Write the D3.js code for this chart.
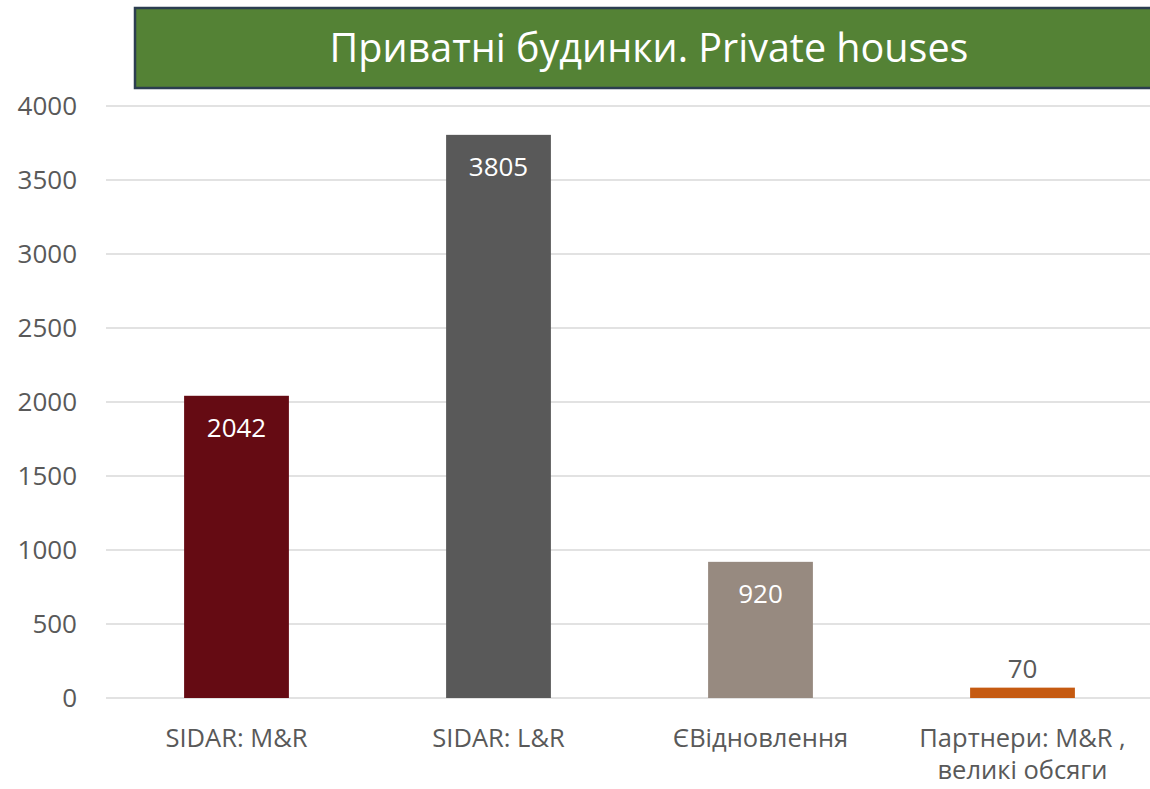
<!DOCTYPE html>
<html>
<head>
<meta charset="utf-8">
<script src="https://cdn.jsdelivr.net/npm/d3@7.9.0/dist/d3.min.js"></script>
<style>
  body { margin: 0; background: #fff; }
  svg { display: block; font-family: "Open Sans", "Noto Sans", sans-serif; }
</style>
</head>
<body>
<svg id="chart" width="1150" height="789"></svg>
<script>
const categories = ['SIDAR: M&R', 'SIDAR: L&R', 'ЄВідновлення', 'Партнери: M&R ,|великі обсяги'];
const values = [2042, 3805, 920, 70];
const colors = ['#650b13', '#595959', '#978a80', '#c55a11'];
const yTicks = [0, 500, 1000, 1500, 2000, 2500, 3000, 3500, 4000];
const title = 'Приватні будинки. Private houses';

const svg = d3.select('#chart');

// title banner
svg.append('rect').attr('x', 135).attr('y', 8).attr('width', 1030).attr('height', 80)
  .attr('fill', '#548235').attr('stroke', '#2c3e50').attr('stroke-width', 2.5);
svg.append('text').attr('x', 649).attr('y', 62).attr('text-anchor', 'middle')
  .attr('fill', '#fff').style('font-size', '39.5px').text(title);

const x = d3.scaleBand().domain(categories).range([105.5, 1153.5]).paddingInner(0.6).paddingOuter(0.3);
const y = d3.scaleLinear().domain([0, 4000]).range([698, 106]);

// grid
svg.append('g').selectAll('line').data(yTicks).join('line')
  .attr('x1', 106).attr('x2', 1150)
  .attr('y1', d => y(d)).attr('y2', d => y(d))
  .attr('stroke', '#d9d9d9').attr('stroke-width', 1.5);

// y axis
const yAxis = svg.append('g').attr('transform', 'translate(86,0)')
  .call(d3.axisLeft(y).tickValues(yTicks).tickFormat(d3.format('d')).tickSize(0).tickPadding(9));
yAxis.attr('font-family', null).attr('font-size', null);
yAxis.select('.domain').remove();
yAxis.selectAll('text').attr('fill', '#595959').style('font-size', '26px');

// bars
svg.append('g').selectAll('rect').data(values).join('rect')
  .attr('x', (d, i) => x(categories[i]))
  .attr('width', x.bandwidth())
  .attr('y', d => y(d))
  .attr('height', d => y(0) - y(d))
  .attr('fill', (d, i) => colors[i]);

// value labels
svg.append('g').selectAll('text').data(values).join('text')
  .attr('x', (d, i) => x(categories[i]) + x.bandwidth() / 2)
  .attr('y', d => (y(0) - y(d) > 60 ? y(d) + 41 : y(d) - 10))
  .attr('text-anchor', 'middle')
  .attr('fill', d => (y(0) - y(d) > 60 ? '#fff' : '#595959'))
  .style('font-size', '26px')
  .text(d => d);

// category labels
const xg = svg.append('g');
categories.forEach(c => {
  const t = xg.append('text')
    .attr('x', x(c) + x.bandwidth() / 2).attr('y', 747)
    .attr('text-anchor', 'middle').attr('fill', '#595959').style('font-size', '25.5px');
  c.split('|').forEach((line, j) => {
    t.append('tspan').attr('x', x(c) + x.bandwidth() / 2).attr('dy', j ? 32 : 0).text(line);
  });
});
</script>
</body>
</html>
